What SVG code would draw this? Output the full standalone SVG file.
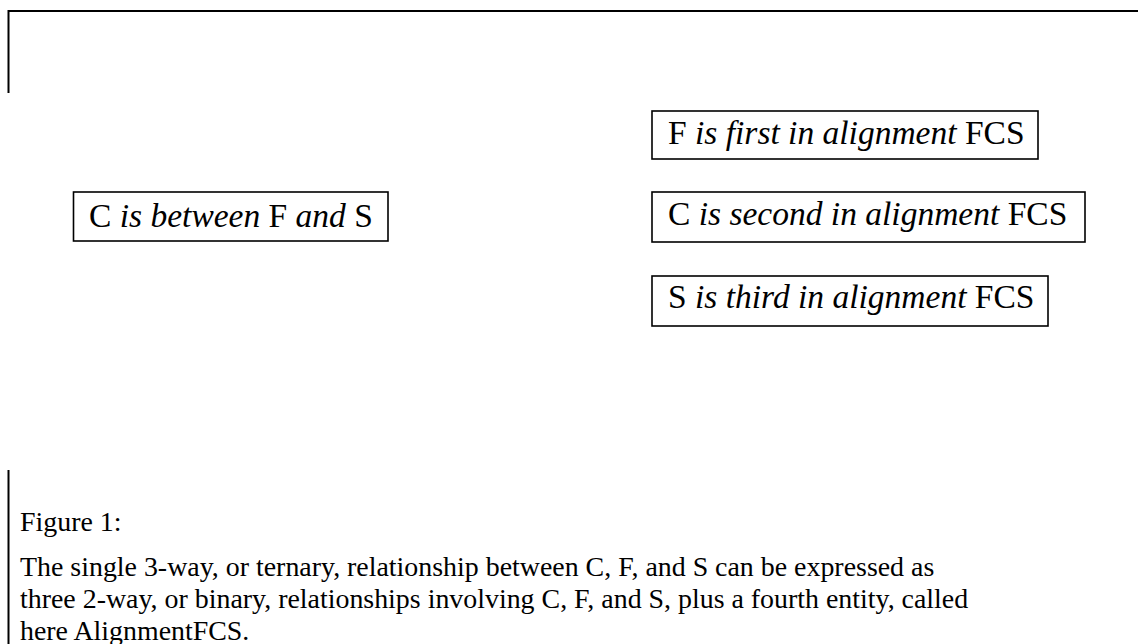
<svg xmlns="http://www.w3.org/2000/svg" width="1138" height="644" viewBox="0 0 1138 644">
<style>
.frame{stroke:#000;stroke-width:2;fill:none}
.box{stroke:#000;stroke-width:1.6;fill:#fff}
.lbl{font-family:"Liberation Serif","Times New Roman",serif;font-size:33.5px;fill:#000}
.body{font-family:"Liberation Serif","Times New Roman",serif;font-size:27.9px;fill:#000}
.i{font-style:italic}
</style>
<rect width="1138" height="644" fill="#fff"/>
<g id="frame">
<polyline class="frame" points="8.5,93 8.5,11 1138,11"/>
<line class="frame" x1="8.5" y1="470" x2="8.5" y2="644"/>
</g>
<g id="connectors"></g>
<g id="node-between">
<rect class="box" x="73.5" y="192" width="314.5" height="49"/>
<text class="lbl" x="89" y="227">C <tspan class="i">is between</tspan> F <tspan class="i">and</tspan> S</text>
</g>
<g id="node-first">
<rect class="box" x="652" y="111" width="386" height="48"/>
<text class="lbl" x="668" y="144">F <tspan class="i">is first in alignment</tspan> FCS</text>
</g>
<g id="node-second">
<rect class="box" x="652" y="192" width="433" height="50"/>
<text class="lbl" x="668" y="225">C <tspan class="i">is second in alignment</tspan> FCS</text>
</g>
<g id="node-third">
<rect class="box" x="652" y="276" width="396" height="50"/>
<text class="lbl" x="668" y="308">S <tspan class="i">is third in alignment</tspan> FCS</text>
</g>
<g id="caption">
<text class="body" x="20" y="531">Figure 1:</text>
<text class="body" x="20" y="576">The single 3-way, or ternary, relationship between C, F, and S can be expressed as</text>
<text class="body" x="20" y="608">three 2-way, or binary, relationships involving C, F, and S, plus a fourth entity, called</text>
<text class="body" x="20" y="640">here AlignmentFCS.</text>
</g>
</svg>
